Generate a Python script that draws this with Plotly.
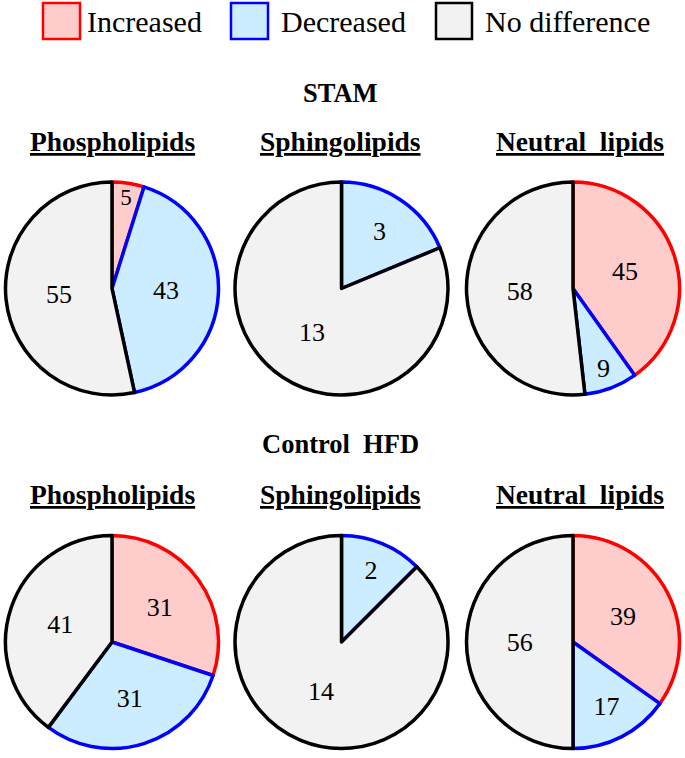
import plotly.graph_objects as go

categories = ["Increased", "Decreased", "No difference"]
groups = ["STAM", "Control HFD"]
lipid_classes = ["Phospholipids", "Sphingolipids", "Neutral lipids"]
stam_values = [[5, 43, 55], [0, 3, 13], [45, 9, 58]]
hfd_values = [[31, 31, 41], [0, 2, 14], [39, 17, 56]]

fill_colors = ["rgb(255,204,204)", "rgb(204,236,255)", "rgb(242,242,242)"]
line_colors = ["rgb(255,0,0)", "rgb(0,0,255)", "rgb(0,0,0)"]

W, H = 685, 758
FONT = "Liberation Serif"

def px_x(x):
    return x / W

def px_y(y):
    return 1 - y / H

centers_x = [112, 341.5, 573]
centers_y = [288.5, 642]
R = 106.5

fig = go.Figure()
all_values = [stam_values, hfd_values]
for gi, gvals in enumerate(all_values):
    for ci, vals in enumerate(gvals):
        cx, cy = centers_x[ci], centers_y[gi]
        fig.add_trace(go.Pie(
            labels=categories,
            values=vals,
            sort=False,
            direction="clockwise",
            rotation=0,
            marker=dict(colors=fill_colors, line=dict(color=line_colors, width=3.5)),
            texttemplate="%{value}",
            textposition="inside",
            insidetextorientation="horizontal",
            textfont=dict(family=FONT, size=26, color="black"),
            hoverinfo="label+value",
            showlegend=False,
            domain=dict(x=[px_x(cx - R), px_x(cx + R)], y=[px_y(cy + R), px_y(cy - R)]),
        ))

annotations = []
shapes = []
# legend
legend_boxes = [(43, 80, 85), (231, 268, 279), (436, 472, 483)]
for (x0, x1, tx), cat, fc, lc in zip(legend_boxes, categories, fill_colors, line_colors):
    shapes.append(dict(type="rect", xref="paper", yref="paper",
                       x0=px_x(x0), x1=px_x(x1), y0=px_y(39), y1=px_y(3),
                       fillcolor=fc, line=dict(color=lc, width=2.5)))
    annotations.append(dict(text=cat, xref="paper", yref="paper", x=px_x(tx), y=px_y(22),
                            xanchor="left", yanchor="middle", showarrow=False,
                            font=dict(family=FONT, size=30, color="black")))

group_y = [93, 444]
class_y = [141, 494]
for gi, g in enumerate(groups):
    annotations.append(dict(text="<b>" + g.replace(" ", "&nbsp; ") + "</b>", xref="paper", yref="paper",
                            x=px_x(340), y=px_y(group_y[gi]), xanchor="center", yanchor="middle",
                            showarrow=False, font=dict(family=FONT, size=26.5, color="black")))
    for ci, cl in enumerate(lipid_classes):
        annotations.append(dict(text="<b><u>" + cl.replace(" ", "&nbsp; ") + "</u></b>", xref="paper", yref="paper",
                                x=px_x([112.5, 340, 580][ci]), y=px_y(class_y[gi]),
                                xanchor="center", yanchor="middle", showarrow=False,
                                font=dict(family=FONT, size=27.5, color="black")))

fig.update_layout(
    width=W, height=H,
    margin=dict(l=0, r=0, t=0, b=0),
    paper_bgcolor="white", plot_bgcolor="white",
    annotations=annotations, shapes=shapes,
    showlegend=False,
    font=dict(family=FONT),
)

fig.write_html("out.html", config={"displayModeBar": False},
               post_script="document.body.style.margin='0';document.body.style.overflow='hidden';")
